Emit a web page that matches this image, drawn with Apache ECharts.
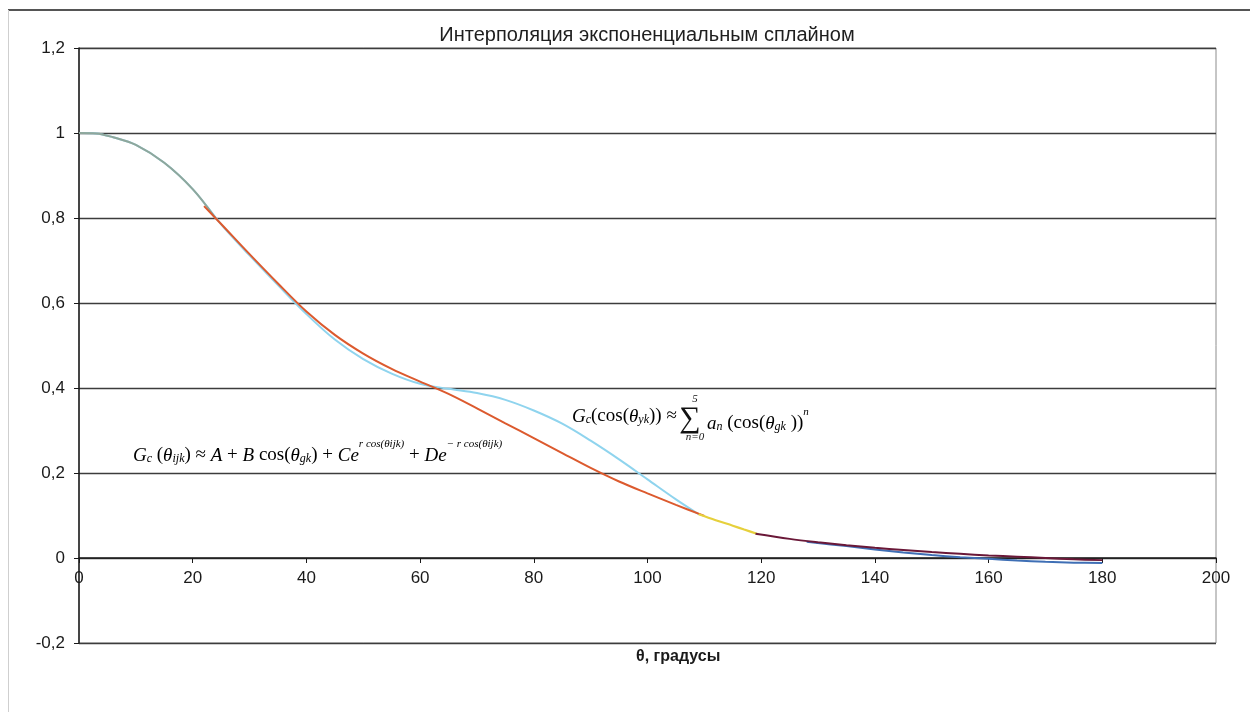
<!DOCTYPE html>
<html>
<head>
<meta charset="utf-8">
<title>Интерполяция экспоненциальным сплайном</title>
<script src="https://cdn.jsdelivr.net/npm/echarts@6/dist/echarts.min.js"></script>
<style>
  html, body { margin: 0; padding: 0; background: #fff; }
  #chart { width: 1250px; height: 712px; }
</style>
</head>
<body>
<div id="chart"></div>
<script>
// Polynomial fit (powers of cos θ), light blue curve
const polyTheta  = [0, 3, 6, 10, 15, 20, 25, 30, 35, 40, 45, 50, 55, 60, 65, 70, 75, 80, 85, 90, 95, 100, 105, 109];
const polyValues = [1.0, 0.999, 0.99, 0.972, 0.93, 0.868, 0.785, 0.712, 0.642, 0.574, 0.514, 0.468, 0.434, 0.41, 0.398, 0.388, 0.372, 0.347, 0.316, 0.276, 0.232, 0.185, 0.138, 0.103];

// Start of the curve, where both fits coincide
const headTheta  = [0, 3, 6, 10, 15, 20, 24];
const headValues = [1.0, 0.999, 0.99, 0.972, 0.93, 0.868, 0.8];

// Exponential spline, main segment
const expTheta  = [22, 25, 30, 35, 40, 45, 50, 55, 60, 65, 70, 75, 80, 85, 90, 95, 100, 105, 110];
const expValues = [0.828, 0.786, 0.715, 0.646, 0.58, 0.525, 0.481, 0.445, 0.415, 0.386, 0.352, 0.317, 0.282, 0.247, 0.212, 0.18, 0.152, 0.125, 0.099];

// Exponential spline, joining segment
const joinTheta  = [109, 112, 115, 117, 119.5];
const joinValues = [0.103, 0.089, 0.076, 0.067, 0.056];

// Exponential spline, tail segment
const tailTheta  = [119, 125, 130, 135, 140, 145, 150, 155, 160, 165, 170, 175, 180];
const tailValues = [0.057, 0.045, 0.037, 0.03, 0.024, 0.019, 0.014, 0.01, 0.006, 0.003, 0.0, -0.003, -0.005];

// Tail of the alternative fit
const altTheta  = [128, 135, 140, 145, 150, 155, 160, 165, 170, 175, 180];
const altValues = [0.038, 0.028, 0.02, 0.013, 0.007, 0.002, -0.002, -0.006, -0.009, -0.011, -0.012];

const xTicks = { min: 0, max: 200, step: 20 };
const yTicks = { min: -0.2, max: 1.2, step: 0.2 };

const zip = (xs, ys) => xs.map((x, i) => [x, ys[i]]);

function curve(name, xs, ys, color, width, z) {
  return {
    name: name,
    type: 'line',
    data: zip(xs, ys),
    smooth: 0.35,
    showSymbol: false,
    symbol: 'none',
    z: z,
    lineStyle: { color: color, width: width },
    emphasis: { disabled: true }
  };
}

const W = 1250, H = 712;
const gridBox = { left: 79, right: 34, top: 48, bottom: 69 };
const plotH = H - gridBox.top - gridBox.bottom;
// lift the θ axis from the bottom edge up to the zero line
const zeroLift = plotH * (0 - yTicks.min) / (yTicks.max - yTicks.min);

const chart = echarts.init(document.getElementById('chart'), null, { renderer: 'canvas' });

const serif = '"Liberation Serif", "DejaVu Serif", serif';
const sans = '"Liberation Sans", Arial, sans-serif';

// rich text styles for the formulas
const rich = {
  n:  { fontFamily: serif, fontSize: 19, lineHeight: 26, color: '#111', verticalAlign: 'bottom' },
  i:  { fontFamily: serif, fontSize: 19, lineHeight: 26, color: '#111', fontStyle: 'italic', verticalAlign: 'bottom' },
  s:  { fontFamily: serif, fontSize: 12, lineHeight: 12, color: '#111', fontStyle: 'italic', verticalAlign: 'bottom' },
  p:  { fontFamily: serif, fontSize: 11, lineHeight: 12, color: '#111', fontStyle: 'italic', verticalAlign: 'top' }
};

const formulaExp =
  '{i|G}{s|c}{n| (}{i|θ}{s|ijk}{n|) ≈ }{i|A}{n| + }{i|B}{n| cos(}{i|θ}{s|gk}{n|) + }{i|Ce}{p|r cos(θ}{p|ijk}{p|)}{n| + }{i|De}{p|− r cos(θ}{p|ijk}{p|)}';
const formulaPolyLeft  = '{i|G}{s|c}{n|(cos(}{i|θ}{s|yk}{n|)) ≈}';
const formulaPolyRight = '{i|a}{s|n}{n| (cos(}{i|θ}{s|gk}{n| ))}{p|n}';

chart.setOption({
  animation: false,
  backgroundColor: '#ffffff',
  title: {
    text: 'Интерполяция экспоненциальным сплайном',
    left: 642,
    top: 20,
    textAlign: 'center',
    textStyle: { fontFamily: sans, fontSize: 20, fontWeight: 'normal', color: '#1e1e1e' }
  },
  grid: {
    left: gridBox.left, right: gridBox.right, top: gridBox.top, bottom: gridBox.bottom,
    show: true,
    borderColor: '#8c8c8c',
    borderWidth: 1,
    containLabel: false
  },
  xAxis: {
    type: 'value',
    position: 'bottom',
    offset: -zeroLift,
    min: xTicks.min,
    max: xTicks.max,
    interval: xTicks.step,
    axisLine: { show: true, onZero: false, lineStyle: { color: '#1a1a1a', width: 1.5 } },
    axisTick: { show: true, length: 5, lineStyle: { color: '#1a1a1a', width: 1 } },
    splitLine: { show: false },
    axisLabel: { fontFamily: sans, fontSize: 17, color: '#1a1a1a', margin: 12 }
  },
  yAxis: {
    type: 'value',
    min: yTicks.min,
    max: yTicks.max,
    interval: yTicks.step,
    axisLine: { show: true, onZero: false, lineStyle: { color: '#1a1a1a', width: 1.5 } },
    axisTick: { show: true, length: 5, lineStyle: { color: '#1a1a1a', width: 1 } },
    splitLine: { show: true, lineStyle: { color: '#3c3c3c', width: 1.4 } },
    axisLabel: {
      fontFamily: sans, fontSize: 17, color: '#1a1a1a', margin: 14,
      formatter: v => String(Math.round(v * 10) / 10).replace('.', ',')
    }
  },
  series: [
    curve('Полином', polyTheta, polyValues, '#8fd4ee', 2, 3),
    curve('Начало', headTheta, headValues, '#8fa79b', 2, 4),
    curve('Экспоненциальный сплайн', expTheta, expValues, '#dc5a2e', 2, 5),
    curve('Стык', joinTheta, joinValues, '#e6d03c', 2.2, 6),
    curve('Альтернатива', altTheta, altValues, '#3f6fb5', 2, 5),
    curve('Хвост', tailTheta, tailValues, '#6a1838', 2, 6)
  ],
  graphic: [
    // outer frame
    { type: 'line', shape: { x1: 8, y1: 10, x2: W, y2: 10 }, style: { stroke: '#555', lineWidth: 2 }, silent: true },
    { type: 'line', shape: { x1: 8.5, y1: 10, x2: 8.5, y2: H }, style: { stroke: '#cfcfcf', lineWidth: 1 }, silent: true },
    // axis title
    {
      type: 'text', left: 636, top: 649, silent: true,
      style: { text: 'θ, градусы', fontFamily: sans, fontSize: 16, fontWeight: 'bold', fill: '#1a1a1a' }
    },
    // exponential spline formula
    {
      type: 'text', left: 133, top: 439, silent: true,
      style: { text: formulaExp, rich: rich }
    },
    // polynomial formula
    {
      type: 'text', left: 572, top: 407, silent: true,
      style: { text: formulaPolyLeft, rich: rich }
    },
    {
      type: 'text', x: 690, y: 419, silent: true,
      style: { text: '∑', fontFamily: serif, fontSize: 30, fill: '#111', align: 'center', verticalAlign: 'middle' }
    },
    {
      type: 'text', x: 695, y: 399, silent: true,
      style: { text: '5', fontFamily: serif, fontSize: 11, fontStyle: 'italic', fill: '#111', align: 'center', verticalAlign: 'middle' }
    },
    {
      type: 'text', x: 695, y: 437, silent: true,
      style: { text: 'n=0', fontFamily: serif, fontSize: 11, fontStyle: 'italic', fill: '#111', align: 'center', verticalAlign: 'middle' }
    },
    {
      type: 'text', left: 707, top: 407, silent: true,
      style: { text: formulaPolyRight, rich: rich }
    }
  ]
});
</script>
</body>
</html>
